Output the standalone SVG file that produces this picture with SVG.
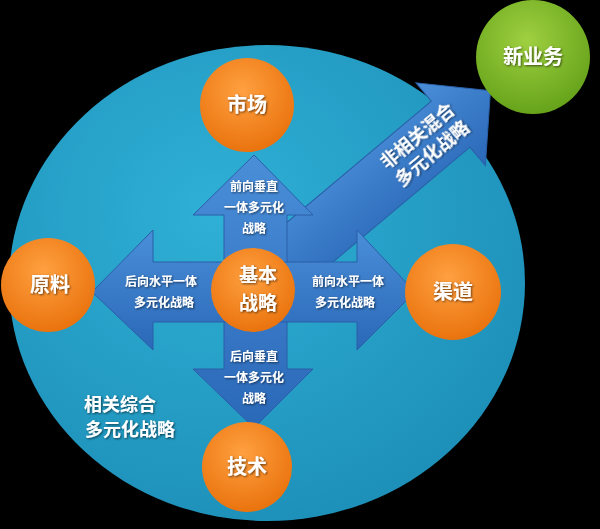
<svg xmlns="http://www.w3.org/2000/svg" width="600" height="529" viewBox="0 0 600 529">
<defs>
<radialGradient id="bg" cx="0.4" cy="0.35" r="0.7"><stop offset="0" stop-color="#2fb0d6"/><stop offset="1" stop-color="#1d8fb8"/></radialGradient>
<radialGradient id="og" cx="0.45" cy="0.35" r="0.7"><stop offset="0" stop-color="#ffa040"/><stop offset="1" stop-color="#e8700a"/></radialGradient>
<radialGradient id="gg" cx="0.45" cy="0.35" r="0.7"><stop offset="0" stop-color="#9fd040"/><stop offset="1" stop-color="#62a018"/></radialGradient>
<linearGradient id="ag" x1="0" y1="0" x2="0" y2="1"><stop offset="0" stop-color="#4a8ed8"/><stop offset="1" stop-color="#2a68b8"/></linearGradient>
<filter id="sh"><feDropShadow dx="1" dy="1" stdDeviation="1" flood-color="#000" flood-opacity="0.6"/></filter>
</defs>
<style>
text{font-family:"Noto Sans CJK SC",sans-serif;font-weight:bold;fill:#fff;text-anchor:middle;filter:url(#sh)}
.big{font-size:20px}.sm{font-size:12px}.mid{font-size:18px}.cen{font-size:19px}
.arr{fill:url(#ag);stroke:#2a5fa8;stroke-width:1}
</style>
<rect width="600" height="529" fill="#000"/>
<ellipse cx="267" cy="283" rx="258" ry="238" fill="url(#bg)"/>
<g id="connectors">
<g transform="translate(253,290) rotate(-40)"><path class="arr" d="M0,-30 L258,-30 L258,-54 L310,0 L258,54 L258,30 L0,30 Z"/>
<text class="mid" x="225" y="-6">非相关混合</text><text class="mid" x="225" y="17">多元化战略</text></g>
<path class="arr" d="M224,215 L193,215 L254,155 L313,215 L287,215 L287,369 L313,369 L254,428 L193,369 L224,369 Z"/>
<path class="arr" d="M153,262 L153,230 L92,292 L153,350 L153,322 L357,322 L357,350 L415,292 L357,230 L357,262 Z"/>
</g>
<text class="sm" x="254" y="191">前向垂直</text><text class="sm" x="254" y="212">一体多元化</text><text class="sm" x="254" y="233">战略</text>
<text class="sm" x="254" y="361">后向垂直</text><text class="sm" x="254" y="382">一体多元化</text><text class="sm" x="254" y="403">战略</text>
<text class="sm" x="161" y="286">后向水平一体</text><text class="sm" x="164" y="307">多元化战略</text>
<text class="sm" x="348" y="286">前向水平一体</text><text class="sm" x="345" y="307">多元化战略</text>
<text class="mid" x="120" y="411">相关综合</text><text class="mid" x="130" y="436">多元化战略</text>
<g id="n1"><circle cx="247" cy="105" r="47" fill="url(#og)"/><text class="big" x="247" y="112">市场</text></g>
<g id="n2"><circle cx="48" cy="285" r="47" fill="url(#og)"/><text class="big" x="50" y="292">原料</text></g>
<g id="n3"><circle cx="453" cy="292" r="48" fill="url(#og)"/><text class="big" x="453" y="299">渠道</text></g>
<g id="n4"><circle cx="247" cy="467" r="45" fill="url(#og)"/><text class="big" x="247" y="474">技术</text></g>
<g id="n5"><circle cx="253" cy="290" r="42" fill="url(#og)"/><text class="cen" x="258" y="282">基本</text><text class="cen" x="258" y="310">战略</text></g>
<g id="n6"><circle cx="533" cy="57" r="57" fill="url(#gg)"/><text class="big" x="533" y="64">新业务</text></g>
</svg>
